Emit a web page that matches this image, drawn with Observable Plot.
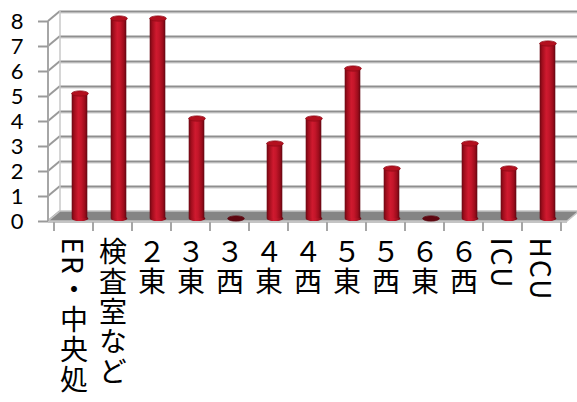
<!DOCTYPE html>
<html><head><meta charset="utf-8">
<script src="https://cdn.jsdelivr.net/npm/d3@7"></script>
<script src="https://cdn.jsdelivr.net/npm/@observablehq/plot@0.6"></script>
<style>body{margin:0;background:#fff;overflow:hidden}</style>
</head><body><div id="chart"></div>
<script>
const categories = ["ER・中央処", "検査室など", "２東", "３東", "３西", "４東", "４西", "５東", "５西", "６東", "６西", "ICU", "HCU"];
const values = [5, 8, 8, 4, 0, 3, 4, 6, 2, 0, 3, 2, 7];
const yTicks = [0, 1, 2, 3, 4, 5, 6, 7, 8];

const data = categories.map((c, i) => ({category: c, value: values[i]}));

const DX = 12, DY = -10;   // depth of the 3D box
const BX = 6, BY = -3;     // bars sit in the middle of the depth

const ellipse = {
  draw(ctx) {
    const rx = 8.3, ry = 2.6, k = 0.5523;
    ctx.moveTo(rx, 0);
    ctx.bezierCurveTo(rx, ry * k, rx * k, ry, 0, ry);
    ctx.bezierCurveTo(-rx * k, ry, -rx, ry * k, -rx, 0);
    ctx.bezierCurveTo(-rx, -ry * k, -rx * k, -ry, 0, -ry);
    ctx.bezierCurveTo(rx * k, -ry, rx, -ry * k, rx, 0);
    ctx.closePath();
  }
};

function frame3d(index, scales, vals, dims) {
  const y = scales.y, x = scales.x;
  const x0 = dims.marginLeft, x1 = dims.width - dims.marginRight;
  const y0 = y(0);
  const g = d3.create("svg:g");
  for (const t of yTicks) {
    g.append("line").attr("x1", x0).attr("y1", y(t)).attr("x2", x0 + DX).attr("y2", y(t) + DY)
      .attr("stroke", "#9a9a9a").attr("stroke-width", 2);
  }
  g.append("line").attr("x1", x0 + DX).attr("x2", x0 + DX).attr("y1", y(8) + DY).attr("y2", y0 + DY)
    .attr("stroke", "#c8c8c8").attr("stroke-width", 1.5);
  g.append("polygon")
    .attr("points", [[x0, y0], [x1, y0], [x1 + DX, y0 + DY], [x0 + DX, y0 + DY]].map(p => p.join(",")).join(" "))
    .attr("fill", "#858585").attr("stroke", "#c4c4c4").attr("stroke-width", 1.5);
  g.append("line").attr("x1", x0).attr("x2", x0).attr("y1", y(8)).attr("y2", y0)
    .attr("stroke", "#a6a6a6").attr("stroke-width", 2);
  g.append("line").attr("x1", x0).attr("x2", x1).attr("y1", y0 + 1).attr("y2", y0 + 1)
    .attr("stroke", "#c4c4c4").attr("stroke-width", 2);
  const edges = categories.map(c => x(c)).concat([x(categories[categories.length - 1]) + x.bandwidth()]);
  for (const e of edges) {
    g.append("line").attr("x1", e).attr("x2", e).attr("y1", y0 + 1).attr("y2", y0 + 10)
      .attr("stroke", "#a6a6a6").attr("stroke-width", 2);
  }
  return g.node();
}

const verticalLabels = (i, s, v, d, c, next) => {
  const g = next(i, s, v, d, c);
  d3.select(g).selectAll("text")
    .attr("y", null).attr("dy", null)
    .attr("text-anchor", "start")
    .style("writing-mode", "vertical-rl")
    .style("letter-spacing", "2px");
  return g;
};

const plot = Plot.plot({
  width: 577,
  height: 402,
  marginLeft: 48,
  marginRight: 10,
  marginTop: 21,
  marginBottom: 181,
  style: {background: "#fff", overflow: "hidden"},
  x: {domain: categories, padding: 0, axis: null},
  y: {domain: [0, 8], axis: null},
  marks: [
    Plot.ruleY(yTicks.slice(1), {dx: DX, dy: DY + 1.5, stroke: "#dedede", strokeWidth: 1.5}),
    Plot.ruleY(yTicks.slice(1), {dx: DX, dy: DY, stroke: "#8f8f8f", strokeWidth: 2}),
    frame3d,
    Plot.axisY({ticks: yTicks, label: null, tickSize: 10, tickPadding: 15, fontSize: 22, stroke: "#9a9a9a", strokeWidth: 2, fill: "#000",
      fontFamily: "'Century Gothic', Lato, 'Noto Sans', sans-serif"}),
    Plot.dot(data.filter(d => d.value > 0), {x: "category", y: () => 0, symbol: ellipse, r: 4, dx: BX, dy: BY, fill: "url(#cyl)", stroke: "none"}),
    Plot.barY(data, {x: "category", y: "value", insetLeft: 11.7, insetRight: 11.7, dx: BX, dy: BY, fill: "url(#cyl)"}),
    Plot.dot(data, {x: "category", y: "value", symbol: ellipse, r: 4, dx: BX, dy: BY,
      fill: d => d.value > 0 ? "#b3101f" : "#5e0610", stroke: d => d.value > 0 ? "#8d0a17" : "#5e0610", strokeWidth: 0.8}),
    Plot.text(data, {x: "category", y: () => 0, text: "category", dy: 16, fontSize: 28, fill: "#000",
      fontFamily: "'Noto Sans CJK JP', sans-serif", render: verticalLabels})
  ]
});

plot.insertAdjacentHTML("afterbegin",
  `<defs><linearGradient id="cyl" x1="0" x2="1" y1="0" y2="0">
    <stop offset="0" stop-color="#6a0712"/>
    <stop offset="0.15" stop-color="#9e0d1c"/>
    <stop offset="0.42" stop-color="#cf1a2f"/>
    <stop offset="0.6" stop-color="#c4162a"/>
    <stop offset="0.85" stop-color="#9a0c1b"/>
    <stop offset="1" stop-color="#600611"/>
  </linearGradient></defs>`);

document.getElementById("chart").append(plot);
</script>
</body></html>
